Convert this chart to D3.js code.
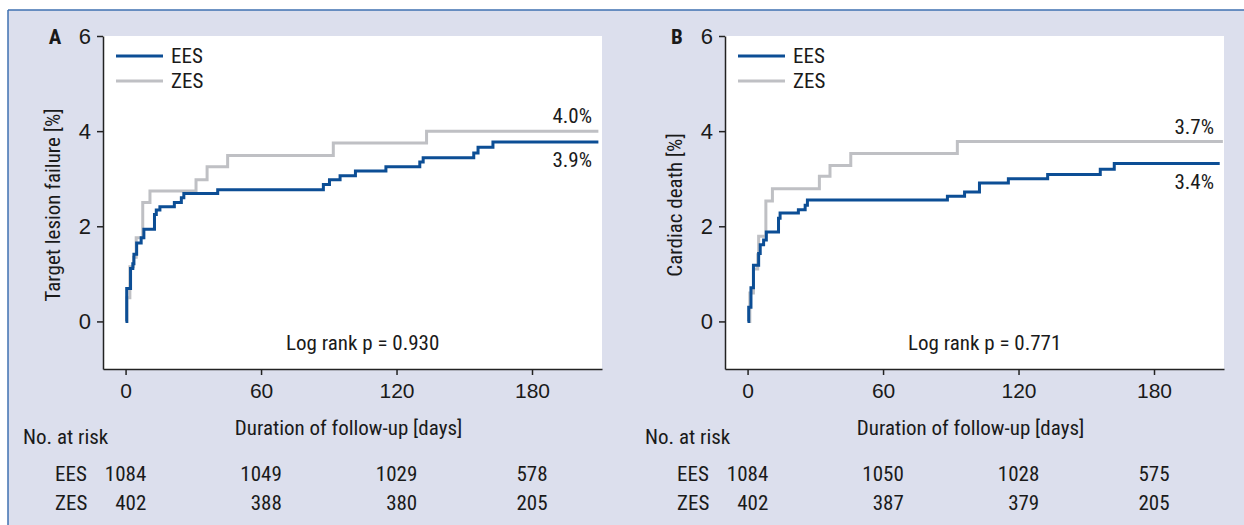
<!DOCTYPE html>
<html><head><meta charset="utf-8">
<script src="https://cdn.jsdelivr.net/npm/d3@7"></script>
<style>
html,body{margin:0;padding:0;background:#fff;}
svg{display:block;font-family:"Liberation Sans Narrow","Arial Narrow","Roboto Condensed",sans-serif;}
</style></head><body>
<svg id="chart" width="1244" height="525"></svg>
<script>
// ---------- data ----------
const xTicks = [0, 60, 120, 180];
const yTicks = [0, 2, 4, 6];
const seriesNames = ["EES", "ZES"];
const panelLetters = ["A", "B"];
const yTitles = ["Target lesion failure [%]", "Cardiac death [%]"];
const xTitle = "Duration of follow-up [days]";
const pLabels = ["Log rank p = 0.930", "Log rank p = 0.771"];
const endLabelsA = ["3.9%", "4.0%"];   // EES, ZES
const endLabelsB = ["3.4%", "3.7%"];

// Panel A – target lesion failure (cumulative %, step after)
const eesA_days = [0, 0.5, 2.2, 3.2, 3.7, 4.9, 6.9, 8.1, 12.8, 13.6, 15.2, 21.6, 24.7, 25.8, 40.8, 87.6, 90.3, 95, 101.8, 115.3, 130.3, 131.8, 154.2, 156.1, 162.7, 209.4];
const eesA_vals = [0, 0.69, 1.11, 1.21, 1.41, 1.65, 1.76, 1.94, 2.25, 2.34, 2.41, 2.50, 2.60, 2.69, 2.77, 2.88, 2.98, 3.06, 3.16, 3.25, 3.35, 3.44, 3.54, 3.66, 3.77, 3.77];
const zesA_days = [0, 0.6, 1.9, 3.5, 4.7, 7.6, 10.8, 31.2, 36.1, 45.2, 92.0, 133.3, 209.4];
const zesA_vals = [0, 0.50, 1.15, 1.35, 1.76, 2.50, 2.74, 2.98, 3.25, 3.49, 3.75, 4.00, 4.00];

// Panel B – cardiac death
const eesB_days = [0, 0.5, 1.5, 2.6, 4.9, 5.6, 7.1, 8.3, 13.7, 14.4, 22.5, 25.5, 26.5, 88.5, 96.1, 102.7, 115.5, 132.9, 156.2, 162.4, 209.1];
const eesB_vals = [0, 0.30, 0.71, 1.18, 1.43, 1.61, 1.71, 1.88, 2.17, 2.28, 2.35, 2.44, 2.55, 2.63, 2.72, 2.91, 3.00, 3.09, 3.20, 3.32, 3.32];
const zesB_days = [0, 1.0, 2.6, 4.5, 4.9, 8.1, 11.0, 31.8, 36.5, 45.7, 92.9, 210.5];
const zesB_vals = [0, 0.60, 1.10, 1.40, 1.79, 2.53, 2.79, 3.05, 3.28, 3.53, 3.78, 3.78];

// Numbers at risk
const riskA_EES = [1084, 1049, 1029, 578];
const riskA_ZES = [402, 388, 380, 205];
const riskB_EES = [1084, 1050, 1028, 575];
const riskB_ZES = [402, 387, 379, 205];

// ---------- drawing ----------
const svg = d3.select("#chart");
const BG = "#dcdfed", BLUE = "#0c4e95", GRAY = "#bfc0c4", TXT = "#1a1a1a";
const FS = "21px";

// frame
svg.append("rect").attr("x", 8).attr("y", 10).attr("width", 1244).attr("height", 525).attr("fill", BG);
svg.append("line").attr("x1", 8).attr("x2", 1244).attr("y1", 10).attr("y2", 10).attr("stroke", "#3f70b0").attr("stroke-width", 1.5);
svg.append("line").attr("x1", 8).attr("x2", 8).attr("y1", 10).attr("y2", 525).attr("stroke", "#3f70b0").attr("stroke-width", 1.5);

const panels = [
  { left: 103, letter: panelLetters[0], ytitle: yTitles[0], p: pLabels[0], ends: endLabelsA,
    ees: eesA_days.map((d, i) => [d, eesA_vals[i]]), zes: zesA_days.map((d, i) => [d, zesA_vals[i]]),
    riskE: riskA_EES, riskZ: riskA_ZES },
  { left: 725, letter: panelLetters[1], ytitle: yTitles[1], p: pLabels[1], ends: endLabelsB,
    ees: eesB_days.map((d, i) => [d, eesB_vals[i]]), zes: zesB_days.map((d, i) => [d, zesB_vals[i]]),
    riskE: riskB_EES, riskZ: riskB_ZES }
];

const W = 499, TOP = 36, BOTTOM = 369;

panels.forEach(P => {
  const x = d3.scaleLinear().domain([-10, 211]).range([P.left, P.left + W]);
  const y = d3.scaleLinear().domain([-1, 6]).range([BOTTOM, TOP]);
  const g = svg.append("g");

  g.append("rect").attr("x", P.left).attr("y", TOP).attr("width", W).attr("height", BOTTOM - TOP).attr("fill", "#fff");

  const yAxis = g.append("g").attr("transform", `translate(${P.left},0)`)
    .call(d3.axisLeft(y).tickValues(yTicks).tickFormat(d3.format("d")).tickSize(6).tickSizeOuter(0).tickPadding(6));
  const xAxis = g.append("g").attr("transform", `translate(0,${BOTTOM})`)
    .call(d3.axisBottom(x).tickValues(xTicks).tickFormat(d3.format("d")).tickSize(6).tickSizeOuter(0).tickPadding(8));
  [yAxis, xAxis].forEach(a => {
    a.selectAll("path,line").attr("stroke", "#222").attr("stroke-width", 1.5);
    a.selectAll("text").attr("fill", TXT).style("font-size", FS).style("font-family", null);
  });
  yAxis.selectAll("text").style("font-size", "22px");

  // curves
  const line = d3.line().x(d => x(d[0])).y(d => y(d[1])).curve(d3.curveStepAfter);
  g.append("path").datum(P.zes).attr("d", line).attr("fill", "none").attr("stroke", GRAY).attr("stroke-width", 3);
  g.append("path").datum(P.ees).attr("d", line).attr("fill", "none").attr("stroke", BLUE).attr("stroke-width", 3);

  // legend
  [BLUE, GRAY].forEach((c, i) => {
    const ly = 56 + i * 25;
    g.append("line").attr("x1", P.left + 13).attr("x2", P.left + 60).attr("y1", ly).attr("y2", ly)
      .attr("stroke", c).attr("stroke-width", 3);
    g.append("text").attr("x", P.left + 68).attr("y", ly).attr("dy", "0.35em").attr("fill", TXT)
      .style("font-size", FS).text(seriesNames[i]);
  });

  // end labels
  const lastE = P.ees[P.ees.length - 1], lastZ = P.zes[P.zes.length - 1];
  g.append("text").attr("x", P.left + W - 10).attr("y", y(lastZ[1]) - 15).attr("dy", "0.35em")
    .attr("text-anchor", "end").attr("fill", TXT).style("font-size", FS).text(P.ends[1]);
  g.append("text").attr("x", P.left + W - 10).attr("y", y(lastE[1]) + 18).attr("dy", "0.35em")
    .attr("text-anchor", "end").attr("fill", TXT).style("font-size", FS).text(P.ends[0]);

  // p value
  g.append("text").attr("x", x(105)).attr("y", y(-0.45)).attr("dy", "0.35em").attr("text-anchor", "middle")
    .attr("fill", TXT).style("font-size", FS).text(P.p);

  // panel letter
  g.append("text").attr("x", P.left - 48).attr("y", TOP + 1).attr("dy", "0.35em").attr("text-anchor", "middle")
    .attr("fill", TXT).style("font-size", "21px").style("font-weight", "bold").text(P.letter);

  // y title
  g.append("text").attr("transform", `translate(${P.left - 50},${205}) rotate(-90)`).attr("dy", "0.35em")
    .attr("text-anchor", "middle").attr("fill", TXT).style("font-size", FS).text(P.ytitle);

  // x title
  g.append("text").attr("x", P.left + W / 2 - 4).attr("y", 428).attr("dy", "0.35em").attr("text-anchor", "middle")
    .attr("fill", TXT).style("font-size", FS).text(xTitle);

  // number at risk
  g.append("text").attr("x", P.left - 80).attr("y", 437).attr("dy", "0.35em").attr("fill", TXT)
    .style("font-size", FS).text("No. at risk");
  [[P.riskE, 474], [P.riskZ, 503]].forEach(([arr, ry], r) => {
    g.append("text").attr("x", P.left - 48).attr("y", ry).attr("dy", "0.35em").attr("fill", TXT)
      .style("font-size", FS).text(seriesNames[r]);
  });
  xTicks.forEach((t, i) => {
    const te = g.append("text").attr("x", x(t)).attr("y", 474).attr("dy", "0.35em").attr("text-anchor", "middle")
      .attr("fill", TXT).style("font-size", FS).text(P.riskE[i]);
    const w = te.node().getComputedTextLength();
    g.append("text").attr("x", x(t) + w / 2).attr("y", 503).attr("dy", "0.35em").attr("text-anchor", "end")
      .attr("fill", TXT).style("font-size", FS).text(P.riskZ[i]);
  });
});
</script>
</body></html>
